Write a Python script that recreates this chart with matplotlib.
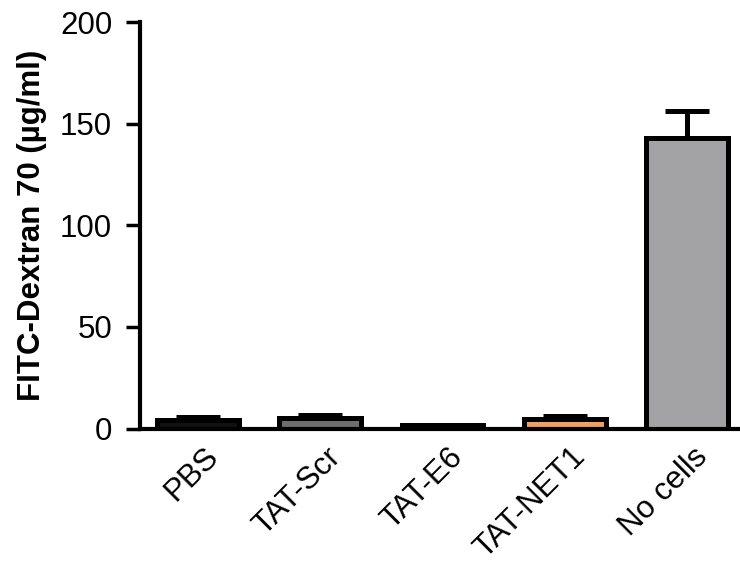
import matplotlib
matplotlib.use("Agg")
import matplotlib.pyplot as plt

plt.rcParams['font.family'] = ['Liberation Sans', 'DejaVu Sans']

categories = ["PBS", "TAT-Scr", "TAT-E6", "TAT-NET1", "No cells"]
means = [4.0, 5.0, 1.5, 4.5, 143.0]
errors = [1.7, 1.8, 0.3, 1.7, 13.0]
colors = ["#111111", "#6e6e6e", "#111111", "#f0a060", "#a3a3a6"]
yticks = [0, 50, 100, 150, 200]

fig = plt.figure(figsize=(7.4, 5.65), dpi=100)
ax = fig.add_axes([140 / 740, 1 - 428.5 / 565, 598 / 740, 406.5 / 565])

x = list(range(len(categories)))
ax.bar(x, means, width=0.67, color=colors, edgecolor="black", linewidth=3.6, zorder=2)
ax.errorbar(x, means, yerr=[[0] * len(errors), errors], fmt="none", ecolor="black",
            elinewidth=3.6, capsize=15.5, capthick=3.6, zorder=1)

ax.set_xlim(-0.474, 4.417)
ax.set_ylim(0, 200)
ax.set_yticks(yticks)
ax.set_xticks(x)
ax.set_xticklabels([])
# rotated category labels, right end placed just below and right of each bar centre
for xi, name in zip(x, categories):
    ax.annotate(name, xy=(xi, 0), xycoords=("data", "axes fraction"),
                xytext=(16, -24), textcoords="offset pixels",
                rotation=45, ha="right", va="center", rotation_mode="anchor",
                fontsize=22.5, annotation_clip=False)
ax.tick_params(axis="y", labelsize=22.5, width=2.5, length=10, pad=10)
ax.tick_params(axis="x", length=0)
ax.set_ylabel("FITC-Dextran 70 (µg/ml)", fontsize=22.5, fontweight="bold")
ax.yaxis.set_label_coords(-0.155, 0.5)

for side in ("top", "right"):
    ax.spines[side].set_visible(False)
for side in ("left", "bottom"):
    ax.spines[side].set_linewidth(3)

fig.savefig("out.png", dpi=100)
